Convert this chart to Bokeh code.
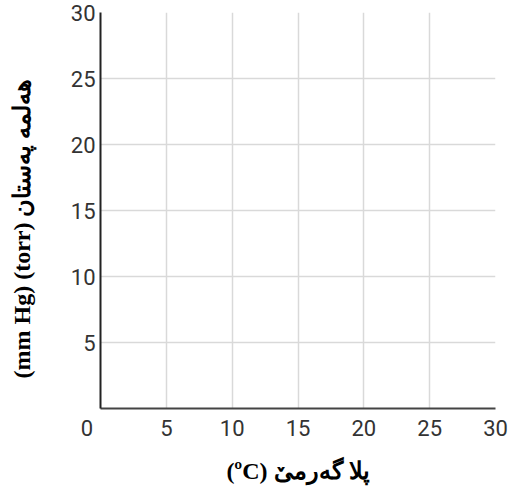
from bokeh.plotting import figure
from bokeh.models import Range1d, FixedTicker
from bokeh.embed import file_html
from bokeh.resources import INLINE

# Data / tick definitions
x_ticks = [0, 5, 10, 15, 20, 25, 30]
y_ticks = [5, 10, 15, 20, 25, 30]
x_tick_labels = {0: "0\u00a0\u00a0\u00a0\u00a0\u00a0"}
x_range = (0, 30)
y_range = (0, 30)
x_label = "(ºC) پلا گەرمیٚ"
y_label = "(mm Hg) (torr) هەلمە پەستان" + "\u00a0" * 6

p = figure(width=508, height=491, output_backend="svg", toolbar_location=None,
           x_range=Range1d(*x_range), y_range=Range1d(*y_range),
           min_border_left=100, min_border_right=13, min_border_top=12,
           min_border_bottom=83)
p.outline_line_color = None
p.background_fill_color = "white"

for ax in (p.xaxis[0], p.yaxis[0]):
    ax.major_tick_out = 0
    ax.major_tick_in = 0
    ax.minor_tick_out = 0
    ax.minor_tick_in = 0
    ax.major_label_text_font = "Roboto"
    ax.major_label_text_font_size = "22px"
    ax.major_label_text_color = "#333333"
    ax.axis_line_width = 2
    ax.axis_label_text_font = "Liberation Serif"
    ax.axis_label_text_font_style = "bold"
    ax.axis_label_text_font_size = "24px"
    ax.axis_label_text_color = "#000000"

p.xaxis[0].ticker = FixedTicker(ticks=x_ticks)
p.xaxis[0].major_label_overrides = x_tick_labels
p.yaxis[0].ticker = FixedTicker(ticks=y_ticks)
p.xaxis[0].axis_line_color = "#444444"
p.yaxis[0].axis_line_color = "#222222"
p.xaxis[0].major_label_standoff = 7
p.yaxis[0].major_label_standoff = 5
p.xaxis[0].axis_label = x_label
p.yaxis[0].axis_label = y_label
p.xaxis[0].axis_label_standoff = 14
p.yaxis[0].axis_label_standoff = 33

p.xgrid[0].ticker = FixedTicker(ticks=x_ticks)
p.ygrid[0].ticker = FixedTicker(ticks=y_ticks)
p.xgrid.grid_line_color = "#d9d9d9"
p.ygrid.grid_line_color = "#d9d9d9"
p.xgrid.grid_line_width = 1.5
p.ygrid.grid_line_width = 1.5

open("out.html", "w").write(file_html(p, INLINE))
